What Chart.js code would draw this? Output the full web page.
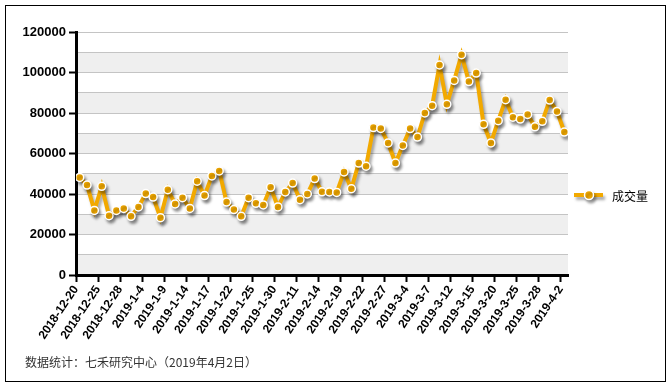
<!DOCTYPE html>
<html>
<head>
<meta charset="utf-8">
<script src="https://cdn.jsdelivr.net/npm/chart.js@4"></script>
<style>
    body { margin: 0; background: #fff; }
    #wrap { position: relative; width: 670px; height: 386px; }
    #frame { position: absolute; left: 5px; top: 5px; width: 659px; height: 375px; border: 1px solid #000; }
    #volume-chart { position: absolute; left: 0; top: 0; }
    #source { position: absolute; left: 25px; top: 353px; font: 12px "Noto Sans CJK SC", sans-serif; color: #333; }
</style>
</head>
<body>
<div id="wrap">
    <div id="frame"></div>
    <canvas id="volume-chart" width="670" height="386"></canvas>
    <div id="source">数据统计：七禾研究中心（2019年4月2日）</div>
</div>
<script>
// Tick labels along the x axis (one every 3 trading days)
const tickLabels = ['2018-12-20', '2018-12-25', '2018-12-28', '2019-1-4', '2019-1-9', '2019-1-14',
    '2019-1-17', '2019-1-22', '2019-1-25', '2019-1-30', '2019-2-11', '2019-2-14', '2019-2-19',
    '2019-2-22', '2019-2-27', '2019-3-4', '2019-3-7', '2019-3-12', '2019-3-15', '2019-3-20',
    '2019-3-25', '2019-3-28', '2019-4-2'];

// Daily volume (成交量)
const volumes = [48200, 44400, 31900, 43800, 29300, 31900, 32900, 29000, 33600, 40200,
    38500, 28300, 42100, 35100, 38200, 32900, 46300, 39200, 48900, 51400,
    36000, 32300, 29000, 38200, 35400, 34600, 43300, 33600, 41000, 45400,
    37200, 40000, 47600, 41100, 41000, 40800, 50900, 42600, 55300, 53700,
    72800, 72400, 65200, 55300, 64000, 72300, 68100, 80000, 83600, 103700,
    84300, 96100, 108800, 95500, 99700, 74400, 65200, 76200, 86600, 77900,
    77000, 79300, 73200, 75900, 86400, 80800, 70600];

const seriesName = '成交量';
const orange = '#f2a900';

// Alternating grey bands behind the plot
const bandPlugin = {
    id: 'bands',
    beforeDraw(chart) {
        const ctx = chart.ctx;
        const area = chart.chartArea;
        const y = chart.scales.y;
        ctx.save();
        ctx.fillStyle = '#efefef';
        for (let v = 0; v < 120000; v += 20000) {
            const top = y.getPixelForValue(v + 10000);
            const bottom = y.getPixelForValue(v);
            ctx.fillRect(area.left, top, area.right - area.left, bottom - top);
        }
        ctx.restore();
    }
};

// Soft drop shadow under the line and points
const shadowPlugin = {
    id: 'shadow',
    beforeDatasetsDraw(chart) {
        const ctx = chart.ctx;
        ctx.save();
        ctx.shadowColor = 'rgba(0, 0, 0, 0.35)';
        ctx.shadowBlur = 3;
        ctx.shadowOffsetX = 2;
        ctx.shadowOffsetY = 3;
    },
    afterDatasetsDraw(chart) {
        chart.ctx.restore();
    }
};

// Legend on the right: line sample with a dot, then the series name
const legendPlugin = {
    id: 'sideLegend',
    afterDraw(chart) {
        const ctx = chart.ctx;
        const x = 574, y = 195;
        ctx.save();
        ctx.shadowColor = 'rgba(0, 0, 0, 0.35)';
        ctx.shadowBlur = 3;
        ctx.shadowOffsetX = 2;
        ctx.shadowOffsetY = 3;
        ctx.strokeStyle = orange;
        ctx.lineWidth = 4;
        ctx.beginPath();
        ctx.moveTo(x, y);
        ctx.lineTo(x + 29, y);
        ctx.stroke();
        ctx.beginPath();
        ctx.arc(x + 15, y, 4.5, 0, Math.PI * 2);
        ctx.fillStyle = orange;
        ctx.fill();
        ctx.lineWidth = 1.5;
        ctx.strokeStyle = '#fff';
        ctx.stroke();
        ctx.restore();
        ctx.save();
        ctx.fillStyle = '#000';
        ctx.font = '12px "Noto Sans CJK SC", sans-serif';
        ctx.textBaseline = 'middle';
        ctx.fillText(seriesName, 612, y + 1);
        ctx.restore();
    }
};

const ctx = document.getElementById('volume-chart').getContext('2d');
const volumeChart = new Chart(ctx, {
    type: 'line',
    data: {
        datasets: [{
            label: seriesName,
            data: volumes.map((v, i) => ({ x: i + 0.5, y: v })),
            borderColor: orange,
            borderWidth: 4,
            pointBackgroundColor: orange,
            pointBorderColor: '#fff',
            pointBorderWidth: 1.5,
            pointRadius: 4,
            tension: 0,
            fill: false
        }]
    },
    options: {
        responsive: false,
        animation: false,
        layout: {
            padding: { left: 10, top: 32, right: 102, bottom: 0 }
        },
        scales: {
            x: {
                type: 'linear',
                min: 0,
                max: volumes.length,
                afterBuildTicks: function(scale) {
                    scale.ticks = tickLabels.map((_, i) => ({ value: i * 3 }));
                },
                afterFit: function(scale) {
                    scale.height = 111;
                },
                ticks: {
                    autoSkip: false,
                    minRotation: 56,
                    maxRotation: 56,
                    padding: 1,
                    color: '#000',
                    font: { family: 'Liberation Sans', size: 12, weight: 'bold' },
                    callback: function(value) {
                        return tickLabels[Math.round(value / 3)];
                    }
                },
                grid: {
                    drawOnChartArea: false,
                    tickLength: 7,
                    tickColor: '#000',
                    tickWidth: 2
                },
                border: { display: true, color: '#000', width: 3 }
            },
            y: {
                min: 0,
                max: 120000,
                afterFit: function(scale) {
                    scale.width = 66;
                },
                ticks: {
                    stepSize: 10000,
                    padding: 3,
                    color: '#000',
                    font: { family: 'Liberation Sans', size: 13, weight: 'bold' },
                    callback: function(value) {
                        return value % 20000 === 0 ? value : '';
                    }
                },
                grid: {
                    color: '#c4c4c4',
                    lineWidth: 1,
                    tickLength: 7,
                    tickWidth: 2,
                    tickColor: function(c) {
                        return c.tick && c.tick.value % 20000 === 0 ? '#000' : 'rgba(0,0,0,0)';
                    }
                },
                border: { display: true, color: '#000', width: 3 }
            }
        },
        plugins: {
            legend: { display: false },
            tooltip: { enabled: false }
        }
    },
    plugins: [bandPlugin, shadowPlugin, legendPlugin]
});
</script>
</body>
</html>
